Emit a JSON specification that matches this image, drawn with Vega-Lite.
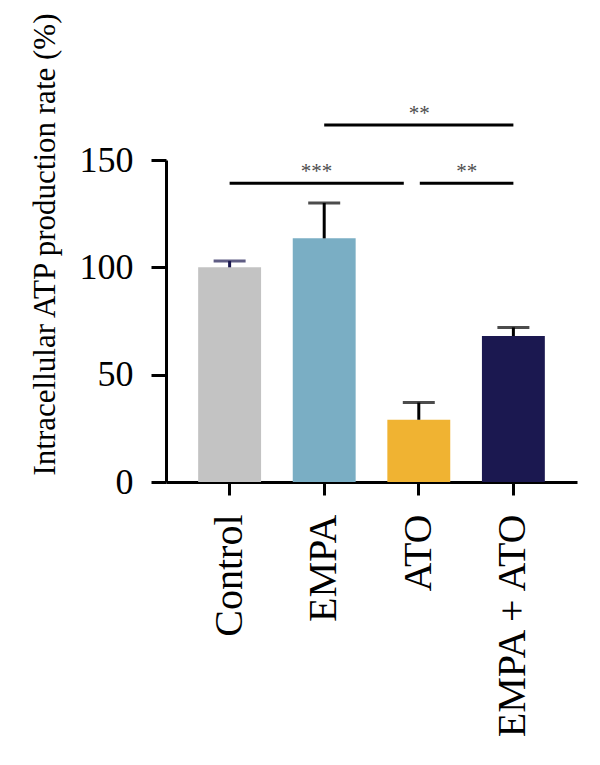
{
  "$schema": "https://vega.github.io/schema/vega-lite/v6.json",
  "autosize": {"type": "none"},
  "padding": {"left": 166, "top": 160, "right": 23, "bottom": 283},
  "width": 411,
  "height": 322,
  "background": "white",
  "config": {
    "view": {"stroke": null},
    "font": "Liberation Serif",
    "axis": {
      "domainColor": "black",
      "domainWidth": 3,
      "tickColor": "black",
      "tickWidth": 3,
      "labelColor": "black",
      "labelFont": "Liberation Serif",
      "titleFont": "Liberation Serif",
      "titleColor": "black",
      "titleFontWeight": "normal",
      "grid": false
    }
  },
  "datasets": {
    "atp": [
      {"group": "Control", "value": 100, "upper": 103},
      {"group": "EMPA", "value": 113.5, "upper": 130},
      {"group": "ATO", "value": 29, "upper": 37},
      {"group": "EMPA + ATO", "value": 68, "upper": 72}
    ]
  },
  "layer": [
    {
      "data": {"name": "atp"},
      "mark": {"type": "bar"},
      "encoding": {
        "x": {
          "field": "group",
          "type": "nominal",
          "sort": ["Control", "EMPA", "ATO", "EMPA + ATO"],
          "scale": {"domain": ["Control", "EMPA", "ATO", "EMPA + ATO"], "paddingInner": 0.335, "paddingOuter": 0.34},
          "axis": {
            "title": null,
            "labelAngle": -90,
            "labelFontSize": 40,
            "labelLimit": 0,
            "labelPadding": 19,
            "tickSize": 13
          }
        },
        "y": {
          "field": "value",
          "type": "quantitative",
          "scale": {"domain": [0, 150], "nice": false},
          "axis": {
            "title": "Intracellular ATP production rate (%)",
            "values": [0, 50, 100, 150],
            "labelFontSize": 36,
            "labelPadding": 18,
            "tickSize": 15,
            "titleFontSize": 31,
            "titleAngle": -90,
            "titleAlign": "center",
            "titleBaseline": "alphabetic",
            "titleX": -112,
            "titleY": 84
          }
        },
        "color": {
          "field": "group",
          "type": "nominal",
          "scale": {
            "domain": ["Control", "EMPA", "ATO", "EMPA + ATO"],
            "range": ["#c3c3c3", "#7aaec4", "#f0b332", "#1b1850"]
          },
          "legend": null
        }
      }
    },
    {
      "data": {"name": "atp"},
      "layer": [
        {
          "mark": {"type": "rule", "strokeWidth": 3},
          "encoding": {
            "x": {"field": "group", "type": "nominal", "sort": ["Control", "EMPA", "ATO", "EMPA + ATO"]},
            "y": {"field": "value", "type": "quantitative"},
            "y2": {"field": "upper"},
            "color": {
              "field": "group",
              "type": "nominal",
              "scale": {
                "domain": ["Control", "EMPA", "ATO", "EMPA + ATO"],
                "range": ["#1b1850", "#000000", "#000000", "#000000"]
              },
              "legend": null
            }
          }
        },
        {
          "mark": {"type": "tick", "orient": "horizontal", "size": 32, "thickness": 3},
          "encoding": {
            "x": {"field": "group", "type": "nominal", "sort": ["Control", "EMPA", "ATO", "EMPA + ATO"]},
            "y": {"field": "upper", "type": "quantitative"},
            "color": {
              "field": "group",
              "type": "nominal",
              "scale": {
                "domain": ["Control", "EMPA", "ATO", "EMPA + ATO"],
                "range": ["#1b1850", "#000000", "#000000", "#000000"]
              },
              "legend": null
            }
          }
        }
      ]
    },
    {
      "data": {"values": [{"from": "Control", "to": "ATO", "y": 139.2, "label": "***"}]},
      "layer": [
        {
          "mark": {"type": "rule", "strokeWidth": 3, "color": "black", "x2Offset": -15},
          "encoding": {
            "x": {"field": "from", "type": "nominal", "sort": ["Control", "EMPA", "ATO", "EMPA + ATO"]},
            "x2": {"field": "to"},
            "y": {"field": "y", "type": "quantitative"}
          }
        },
        {
          "mark": {"type": "text", "fontSize": 21, "color": "#4d4d4d", "dx": 87, "dy": -5, "baseline": "alphabetic"},
          "encoding": {
            "x": {"field": "from", "type": "nominal", "sort": ["Control", "EMPA", "ATO", "EMPA + ATO"]},
            "y": {"field": "y", "type": "quantitative"},
            "text": {"field": "label"}
          }
        }
      ]
    },
    {
      "data": {"values": [{"from": "ATO", "to": "EMPA + ATO", "y": 139.2, "label": "**"}]},
      "layer": [
        {
          "mark": {"type": "rule", "strokeWidth": 3, "color": "black", "xOffset": 1},
          "encoding": {
            "x": {"field": "from", "type": "nominal", "sort": ["Control", "EMPA", "ATO", "EMPA + ATO"]},
            "x2": {"field": "to"},
            "y": {"field": "y", "type": "quantitative"}
          }
        },
        {
          "mark": {"type": "text", "fontSize": 21, "color": "#4d4d4d", "dx": 48, "dy": -5, "baseline": "alphabetic"},
          "encoding": {
            "x": {"field": "from", "type": "nominal", "sort": ["Control", "EMPA", "ATO", "EMPA + ATO"]},
            "y": {"field": "y", "type": "quantitative"},
            "text": {"field": "label"}
          }
        }
      ]
    },
    {
      "data": {"values": [{"from": "EMPA", "to": "EMPA + ATO", "y": 166.3, "label": "**"}]},
      "layer": [
        {
          "mark": {"type": "rule", "strokeWidth": 3, "color": "black"},
          "encoding": {
            "x": {"field": "from", "type": "nominal", "sort": ["Control", "EMPA", "ATO", "EMPA + ATO"]},
            "x2": {"field": "to"},
            "y": {"field": "y", "type": "quantitative"}
          }
        },
        {
          "mark": {"type": "text", "fontSize": 21, "color": "#4d4d4d", "dx": 95, "dy": -5, "baseline": "alphabetic"},
          "encoding": {
            "x": {"field": "from", "type": "nominal", "sort": ["Control", "EMPA", "ATO", "EMPA + ATO"]},
            "y": {"field": "y", "type": "quantitative"},
            "text": {"field": "label"}
          }
        }
      ]
    }
  ],
  "resolve": {"scale": {"color": "independent"}}
}
